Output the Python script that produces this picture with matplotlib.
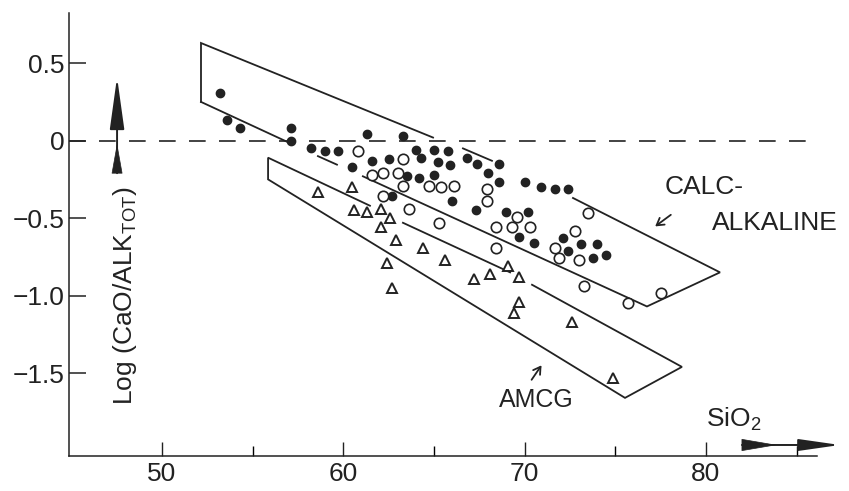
import matplotlib
matplotlib.use('Agg')
import matplotlib.pyplot as plt

plt.rcParams['font.family'] = ['Liberation Sans', 'DejaVu Sans']
plt.rcParams['mathtext.fontset'] = 'custom'
plt.rcParams['mathtext.rm'] = 'Liberation Sans'
plt.rcParams['mathtext.it'] = 'Liberation Sans:italic'

ink = '#222222'

# filled circles (calc-alkaline suite)
filled_x = [53.2, 53.6, 54.3, 57.1, 57.1, 61.3, 63.3, 58.2, 59.0, 59.7, 64.0, 65.0,
            65.8, 61.6, 62.5, 64.3, 65.2, 65.9, 66.8, 67.4, 68.6, 60.5, 63.5, 64.2,
            65.0, 68.0, 68.6, 70.0, 70.9, 71.7, 72.4, 62.7, 66.0, 67.3, 69.0, 70.2,
            69.7, 70.5, 72.1, 73.1, 74.0, 72.4, 73.8, 74.5]
filled_y = [0.31, 0.13, 0.08, 0.08, 0.0, 0.04, 0.03, -0.05, -0.07, -0.07, -0.06, -0.06,
            -0.07, -0.13, -0.12, -0.11, -0.14, -0.16, -0.11, -0.15, -0.15, -0.17, -0.23, -0.24,
            -0.22, -0.21, -0.27, -0.27, -0.30, -0.31, -0.31, -0.36, -0.39, -0.45, -0.46, -0.46,
            -0.62, -0.66, -0.63, -0.67, -0.67, -0.71, -0.76, -0.74]

# open circles
open_x = [60.8, 63.3, 61.6, 62.2, 63.0, 63.3, 64.7, 65.4, 66.1, 62.2, 67.9, 67.9,
          63.6, 65.3, 68.4, 69.3, 69.6, 70.3, 68.4, 73.5, 72.8, 71.7, 71.9, 73.0,
          73.3, 75.7, 77.5]
open_y = [-0.07, -0.12, -0.22, -0.21, -0.21, -0.29, -0.29, -0.30, -0.29, -0.36, -0.31, -0.39,
          -0.44, -0.53, -0.56, -0.56, -0.49, -0.56, -0.69, -0.47, -0.58, -0.69, -0.76, -0.77,
          -0.94, -1.05, -0.98]

# open triangles (AMCG suite)
tri_x = [58.6, 60.5, 60.6, 61.3, 62.1, 62.6, 62.1, 62.9, 64.4, 62.4, 65.6, 62.7,
         67.2, 68.1, 69.1, 69.7, 69.7, 69.4, 72.6, 74.9]
tri_y = [-0.33, -0.30, -0.45, -0.46, -0.44, -0.50, -0.56, -0.64, -0.69, -0.79, -0.77, -0.95,
         -0.89, -0.86, -0.81, -0.88, -1.04, -1.11, -1.17, -1.53]

# field outlines, drawn as broken polylines like the original
calc_field = [
    [(52.15, 0.25), (52.15, 0.63), (64.95, 0.02)],
    [(66.60, -0.05), (68.20, -0.13)],
    [(72.67, -0.37), (80.78, -0.85), (76.75, -1.07), (61.08, -0.23)],
    [(58.60, -0.10), (59.65, -0.155)],
    [(52.15, 0.25), (57.06, -0.016)],
]
amcg_field = [
    [(61.47, -0.42), (55.85, -0.11), (55.85, -0.25), (75.54, -1.66), (78.68, -1.46), (70.41, -0.93)],
    [(63.29, -0.53), (69.20, -0.85)],
]

x_major = [50, 60, 70, 80]
x_minor = [55, 65, 75, 85]
y_ticks = [0.5, 0, -0.5, -1.0, -1.5]
y_labels = ['0.5', '0', '\u22120.5', '\u22121.0', '\u22121.5']

fig = plt.figure(figsize=(8.49, 4.91), dpi=100)
ax = fig.add_axes([0.0813, 0.0713, 0.881, 0.902])

for seg in calc_field + amcg_field:
    xs, ys = zip(*seg)
    ax.plot(xs, ys, color=ink, lw=1.3, solid_joinstyle='miter')

ax.plot([44.87, 85.9], [0, 0], color=ink, lw=1.2, ls=(0, (10, 8)), clip_on=False)

ax.plot(filled_x, filled_y, 'o', color=ink, ms=6, mec=ink, ls='none')
ax.plot(open_x, open_y, 'o', mfc='white', mec=ink, mew=1.2, ms=7.5, ls='none')
ax.plot(tri_x, tri_y, '^', mfc='white', mec=ink, mew=1.4, ms=7, ls='none')

# labels inside the plot
ax.text(77.75, -0.30, 'CALC-', fontsize=19, color=ink, ha='left', va='center')
ax.text(80.34, -0.53, 'ALKALINE', fontsize=19, color=ink, ha='left', va='center')
ax.annotate('', xy=(77.08, -0.564), xytext=(78.19, -0.468),
            arrowprops=dict(arrowstyle='->,head_length=0.5,head_width=0.3', color=ink, lw=1.3))
ax.text(70.63, -1.674, 'AMCG', fontsize=18, color=ink, ha='center', va='center')
ax.annotate('', xy=(71.02, -1.435), xytext=(70.30, -1.558),
            arrowprops=dict(arrowstyle='->,head_length=0.5,head_width=0.3', color=ink, lw=1.3))

# axis captions with their arrows
ax.text(80.0, -1.848, r'SiO$_{\rm 2}$', fontsize=19, color=ink, ha='left', va='baseline')
ax.annotate('', xy=(87.4, -1.964), xytext=(81.99, -1.964), annotation_clip=False,
            arrowprops=dict(arrowstyle='-|>,head_length=1.4,head_width=0.2', color=ink, lw=1.4,
                            shrinkA=0, shrinkB=0, mutation_scale=18))
ax.annotate('', xy=(83.81, -1.964), xytext=(81.99, -1.964), annotation_clip=False,
            arrowprops=dict(arrowstyle='wedge,tail_width=0.45', color=ink, lw=0.5,
                            shrinkA=0, shrinkB=0, mutation_scale=18))

ax.text(47.96, -1.706, r'Log (CaO/ALK$_{\rm TOT}$)', fontsize=19, color=ink,
        rotation=90, ha='center', va='bottom')
ax.annotate('', xy=(47.52, 0.41), xytext=(47.52, -0.21), annotation_clip=False,
            arrowprops=dict(arrowstyle='-|>,head_length=1.8,head_width=0.25', color=ink, lw=1.4,
                            shrinkA=0, shrinkB=0, mutation_scale=18))
ax.annotate('', xy=(47.52, -0.03), xytext=(47.52, -0.21), annotation_clip=False,
            arrowprops=dict(arrowstyle='wedge,tail_width=0.4', color=ink, lw=0.5,
                            shrinkA=0, shrinkB=0, mutation_scale=18))

ax.set_xlim(44.87, 86.13)
ax.set_ylim(-2.035, 0.823)

for side in ['top', 'right']:
    ax.spines[side].set_visible(False)
for side in ['left', 'bottom']:
    ax.spines[side].set_linewidth(1.1)
    ax.spines[side].set_color(ink)

ax.set_xticks(x_major)
ax.set_xticks(x_minor, minor=True)
ax.set_yticks(y_ticks)
ax.set_yticklabels(y_labels)
ax.tick_params(axis='x', which='major', direction='in', length=10, width=1, labelsize=19,
               pad=4, colors=ink)
ax.tick_params(axis='x', which='minor', direction='in', length=7, width=1)
ax.tick_params(axis='y', direction='in', length=12, width=1.1, labelsize=19, pad=3, colors=ink)

fig.savefig('out.png', dpi=100)
